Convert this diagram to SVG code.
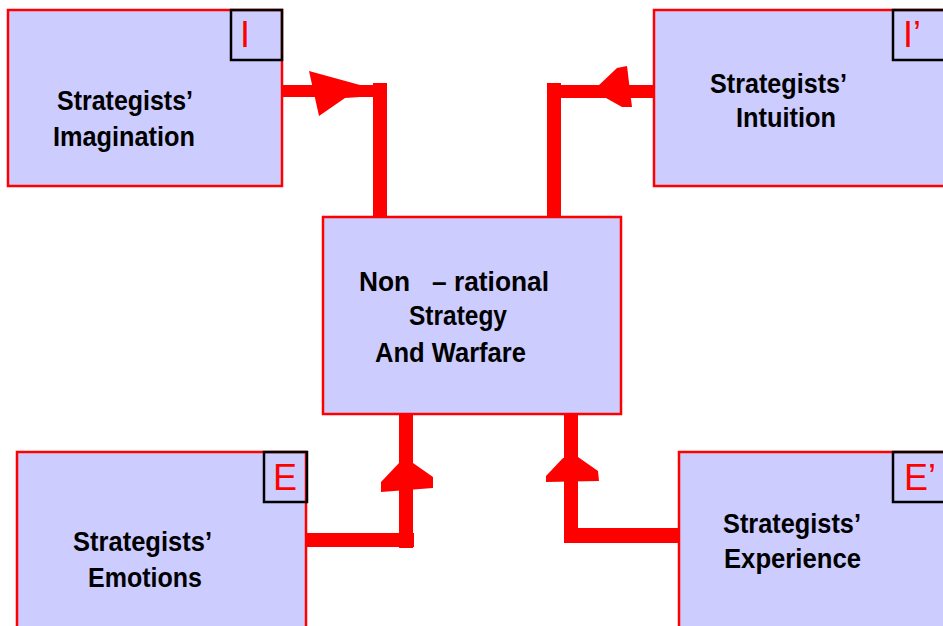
<svg xmlns="http://www.w3.org/2000/svg" width="943" height="626" viewBox="0 0 943 626">
<style>
.box{fill:#CCCCFF;stroke:#FF0000;stroke-width:2.5}
.tag{fill:none;stroke:#000000;stroke-width:2.5}
.t{font-family:"Liberation Sans",Arial,sans-serif;font-weight:bold;font-size:27px;fill:#000}
.l{font-family:"Liberation Sans",Arial,sans-serif;font-weight:normal;font-size:36px;fill:#FF0000}
.c{fill:#FF0000;stroke:none}
</style>
<rect width="943" height="626" fill="#FFFFFF"/>
<g id="connectors">
<rect class="c" x="282" y="85" width="105" height="12"/>
<rect class="c" x="373" y="83" width="14" height="134"/>
<polygon class="c" points="309,71 360,85 360,97 345,98 319,116"/>
<rect class="c" x="547" y="85" width="107" height="13"/>
<rect class="c" x="547" y="83" width="14" height="134"/>
<polygon class="c" points="598,86 617,68 627,66 632,107 622,107 606,98"/>
<rect class="c" x="306" y="533" width="108" height="14"/>
<rect class="c" x="399" y="414" width="14" height="134"/>
<polygon class="c" points="399,463 413,463 433,477 433,488 381,492 381,482"/>
<rect class="c" x="564" y="528" width="116" height="15"/>
<rect class="c" x="564" y="407" width="14" height="136"/>
<polygon class="c" points="563,458 578,457 598,471 599,481 546,482 546,476"/>
</g>
<g id="imagination">
<rect class="box" x="8" y="10" width="274" height="176"/>
<rect class="tag" x="231" y="10" width="51" height="50"/>
<text class="l" x="240" y="47">I</text>
<text class="t" x="57" y="110" textLength="136" lengthAdjust="spacingAndGlyphs">Strategists’</text>
<text class="t" x="53" y="146" textLength="142" lengthAdjust="spacingAndGlyphs">Imagination</text>
</g>
<g id="intuition">
<rect class="box" x="654" y="10" width="300" height="176"/>
<rect class="tag" x="893" y="10" width="60" height="50"/>
<text class="l" x="903" y="47">I’</text>
<text class="t" x="710" y="93" textLength="137" lengthAdjust="spacingAndGlyphs">Strategists’</text>
<text class="t" x="736" y="127" textLength="100" lengthAdjust="spacingAndGlyphs">Intuition</text>
</g>
<g id="center">
<rect class="box" x="323" y="217" width="298" height="197"/>
<text class="t" x="359" y="291" style="white-space:pre" xml:space="preserve" textLength="190" lengthAdjust="spacingAndGlyphs">Non   – rational</text>
<text class="t" x="409" y="325" textLength="98" lengthAdjust="spacingAndGlyphs">Strategy</text>
<text class="t" x="375" y="362" textLength="151" lengthAdjust="spacingAndGlyphs">And Warfare</text>
</g>
<g id="emotions">
<rect class="box" x="17" y="452" width="289" height="190"/>
<rect class="tag" x="264" y="452" width="43" height="50"/>
<text class="l" x="273" y="490">E</text>
<text class="t" x="73" y="551" textLength="139" lengthAdjust="spacingAndGlyphs">Strategists’</text>
<text class="t" x="88" y="587" textLength="114" lengthAdjust="spacingAndGlyphs">Emotions</text>
</g>
<g id="experience">
<rect class="box" x="679" y="452" width="280" height="190"/>
<rect class="tag" x="893" y="452" width="60" height="50"/>
<text class="l" x="904" y="490">E’</text>
<text class="t" x="723" y="533" textLength="138" lengthAdjust="spacingAndGlyphs">Strategists’</text>
<text class="t" x="724" y="568" textLength="137" lengthAdjust="spacingAndGlyphs">Experience</text>
</g>
</svg>
